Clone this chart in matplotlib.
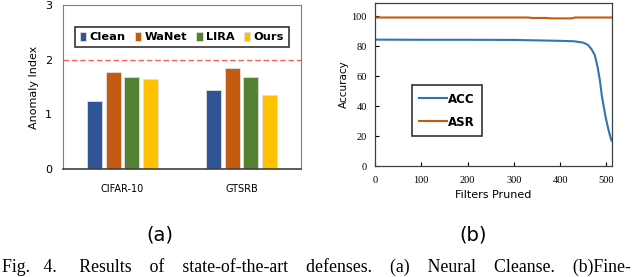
import numpy as np
import matplotlib
matplotlib.use('Agg')
import matplotlib.pyplot as plt

# (a) Neural Cleanse anomaly index
datasets = ['CIFAR-10', 'GTSRB']
methods = ['Clean', 'WaNet', 'LIRA', 'Ours']
clean = [1.25, 1.45]
wanet = [1.77, 1.85]
lira = [1.69, 1.68]
ours = [1.64, 1.36]
colors = ['#2F5597', '#C55A11', '#548235', '#FFC000']

# (b) Fine-pruning curves
pruned = [0, 100, 200, 300, 350, 400, 430, 450, 460, 468, 475, 481, 486, 490, 494, 498, 503, 508, 511]
acc = [84.5, 84.4, 84.4, 84.3, 84.0, 83.7, 83.4, 82.5, 81.0, 78.0, 74.0, 66.0, 57.0, 47.0, 40.0, 33.0, 26.0, 20.0, 17.0]
asr_x = [0, 330, 340, 370, 380, 425, 432, 511]
asr = [99.3, 99.3, 99.0, 99.0, 98.7, 98.7, 99.3, 99.3]

fig = plt.figure(figsize=(6.4, 2.77), dpi=100)

# ---- panel (a)
ax1 = fig.add_axes([63/640, 1-169/277, 238/640, 164/277])
x = np.arange(len(datasets))
w = 0.128
step = 0.157
for i, (vals, c) in enumerate(zip([clean, wanet, lira, ours], colors)):
    ax1.bar(x + (i - 1.5) * step, vals, w, color=c, edgecolor='#e0e0e0',
            linewidth=0.6, label=methods[i], zorder=2)
ax1.axhline(2, color='#ff6060', linestyle=(0, (4, 2)), linewidth=1, zorder=1)
ax1.set_xlim(-0.5, 1.5)
ax1.set_ylim(0, 3)
ax1.set_yticks([0, 1, 2, 3])
ax1.set_xticks(x)
ax1.set_xticklabels(datasets, fontsize=7)
ax1.tick_params(axis='x', length=0, pad=11)
ax1.tick_params(axis='y', length=0, labelsize=8, pad=8)
ax1.set_ylabel('Anomaly Index', fontsize=8, labelpad=4)
for s in ['top', 'right', 'left']:
    ax1.spines[s].set_color('#808080')
    ax1.spines[s].set_linewidth(0.8)
ax1.spines['bottom'].set_color('#404040')
ax1.spines['bottom'].set_linewidth(1.2)
leg = ax1.legend(loc='upper center', bbox_to_anchor=(0.5, 0.9), ncol=4,
                 frameon=True, fancybox=False, handlelength=0.55,
                 handleheight=0.75, handletextpad=0.3, columnspacing=0.8,
                 borderpad=0.45, prop={'weight': 'bold', 'size': 8.2})
leg.get_frame().set_edgecolor('black')
leg.get_frame().set_linewidth(1.2)

# ---- panel (b)
ax2 = fig.add_axes([375/640, 1-166/277, 237/640, 163/277])
ax2.plot(pruned, acc, color='#2E75B6', linewidth=1.5, label='ACC')
ax2.plot(asr_x, asr, color='#C55A11', linewidth=1.5, label='ASR')
ax2.set_xlim(0, 512)
ax2.set_ylim(0, 109)
ax2.set_xticks([0, 100, 200, 300, 400, 500])
ax2.set_yticks([0, 20, 40, 60, 80, 100])
ax2.tick_params(axis='x', direction='in', length=3, labelsize=7.5, pad=7)
ax2.tick_params(axis='y', direction='in', length=3, labelsize=7.5, pad=6)
for lab in ax2.get_xticklabels() + ax2.get_yticklabels():
    lab.set_family('Liberation Serif')
ax2.set_xlabel('Filters Pruned', fontsize=8, labelpad=4)
ax2.set_ylabel('Accuracy', fontsize=7.5, labelpad=2)
for s in ax2.spines.values():
    s.set_color('#404040')
    s.set_linewidth(0.9)
leg2 = ax2.legend(loc='lower left', bbox_to_anchor=(0.13, 0.15),
                  frameon=True, fancybox=False, handlelength=2.4,
                  handletextpad=0.1, labelspacing=0.85, borderpad=0.6,
                  prop={'weight': 'bold', 'size': 8.5})
leg2.get_frame().set_edgecolor('black')
leg2.get_frame().set_linewidth(1.2)

# sub-captions and figure caption
fig.text(160/640, 1-235/277, '(a)', fontsize=14, ha='center', va='center')
fig.text(473/640, 1-235/277, '(b)', fontsize=14, ha='center', va='center')
fig.text(2/640, 0.003,
         'Fig.   4.     Results    of    state-of-the-art    defenses.    (a)    Neural    Cleanse.    (b)Fine-',
         fontsize=12.8, family='Liberation Serif', ha='left', va='bottom')

fig.savefig('out.png', dpi=100)
